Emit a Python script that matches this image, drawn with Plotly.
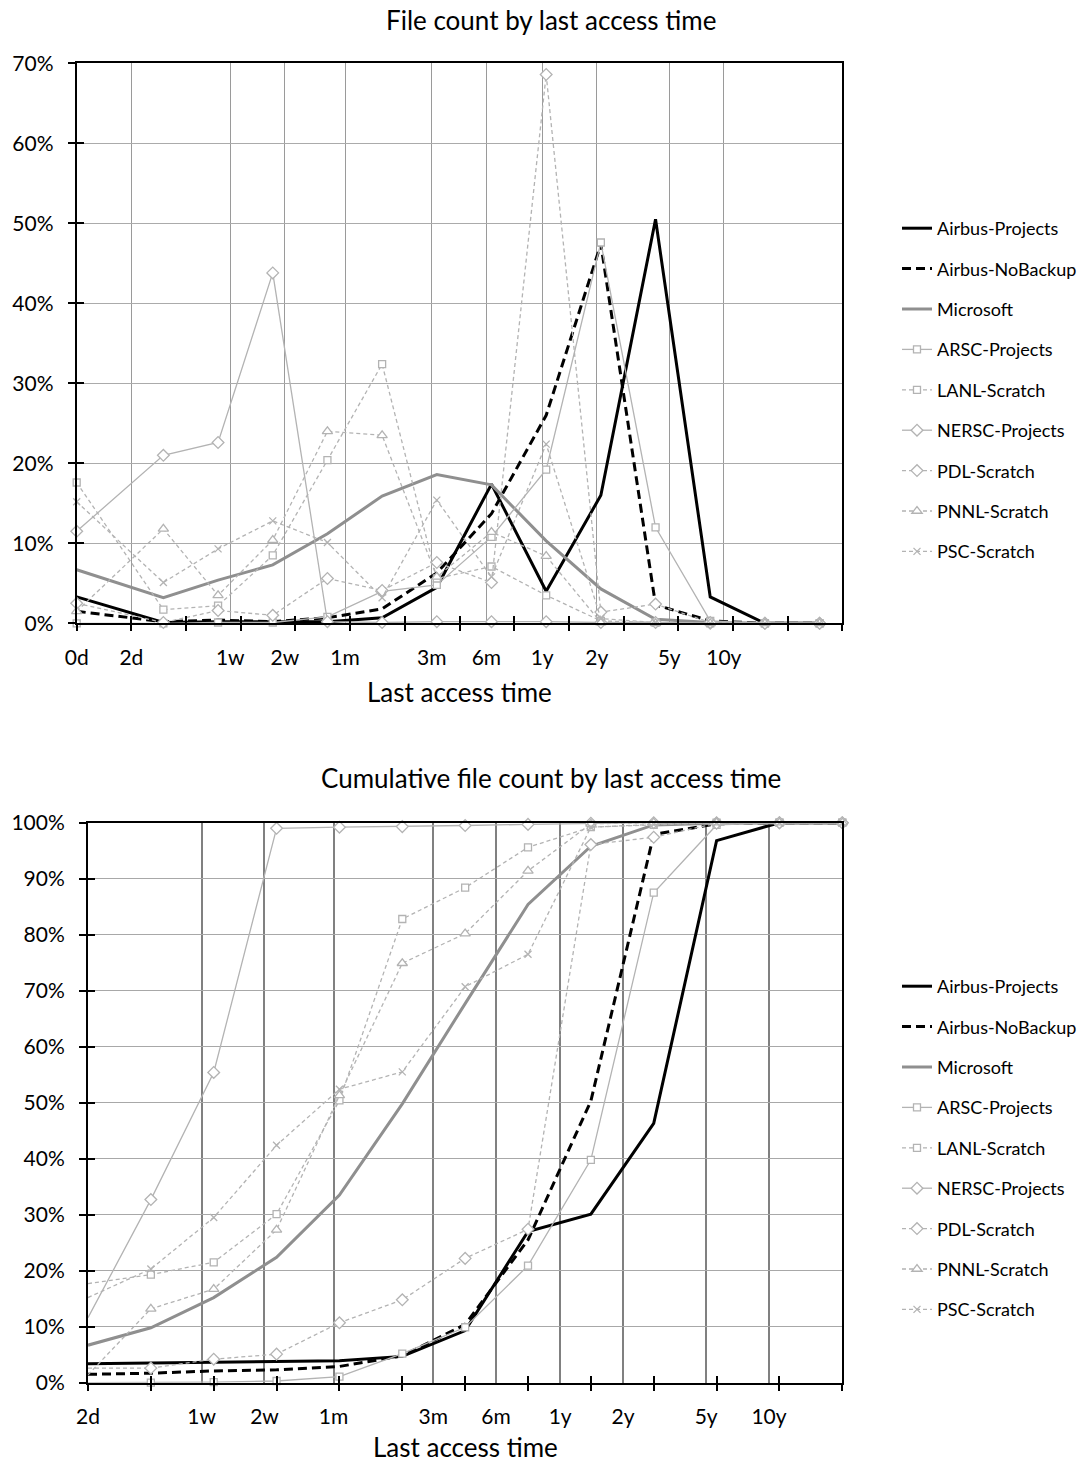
import math
import plotly.graph_objects as go

# ---------------- data ----------------
series_names = ["Airbus-Projects", "Airbus-NoBackup", "Microsoft", "ARSC-Projects",
                "LANL-Scratch", "NERSC-Projects", "PDL-Scratch", "PNNL-Scratch", "PSC-Scratch"]

# top chart: share of files per last-access bin (%)
days_top = [1, 3, 6, 12, 24, 48, 96, 192, 384, 768, 1536, 3072, 6144, 12288]
airbus_projects = [3.3, 0.1, 0.2, 0.2, 0.2, 0.7, 4.5, 17.4, 4.0, 16.0, 50.5, 3.3, 0.0, 0.0]
airbus_nobackup = [1.5, 0.2, 0.4, 0.2, 0.7, 1.8, 6.3, 13.7, 26.0, 47.4, 2.3, 0.3, 0.0, 0.0]
microsoft = [6.7, 3.2, 5.4, 7.3, 11.2, 15.9, 18.6, 17.3, 10.3, 4.3, 0.5, 0.1, 0.0, 0.0]
arsc_projects = [0.0, 0.0, 0.1, 0.1, 0.8, 4.0, 4.8, 10.8, 19.2, 47.6, 12.0, 0.3, 0.0, 0.0]
lanl_scratch = [17.6, 1.7, 2.2, 8.5, 20.4, 32.4, 5.6, 7.1, 3.5, 0.3, 0.1, 0.0, 0.0, 0.0]
nersc_projects = [11.5, 21.0, 22.6, 43.8, 0.2, 0.1, 0.2, 0.2, 0.2, 0.1, 0.1, 0.0, 0.0, 0.0]
pdl_scratch = [2.5, 0.1, 1.6, 1.0, 5.6, 4.1, 7.6, 5.1, 68.6, 1.4, 2.4, 0.1, 0.0, 0.0]
pnnl_scratch = [1.5, 11.8, 3.5, 10.4, 24.0, 23.5, 5.8, 11.4, 8.4, 0.1, 0.0, 0.0, 0.0, 0.0]
psc_scratch = [15.2, 5.1, 9.3, 12.8, 10.1, 3.2, 15.4, 5.8, 22.4, 0.6, 0.1, 0.0, 0.0, 0.0]

# bottom chart: cumulative share (%)
days_cum = [2, 4, 8, 16, 32, 64, 128, 256, 512, 1024, 2048, 4096, 8192]
airbus_projects_cum = [3.4, 3.5, 3.6, 3.8, 3.9, 4.7, 9.3, 27.0, 30.1, 46.3, 96.8, 100, 100]
airbus_nobackup_cum = [1.5, 1.7, 2.1, 2.3, 2.9, 4.8, 10.4, 25.5, 50.3, 97.9, 99.8, 100, 100]
microsoft_cum = [6.7, 9.8, 15.2, 22.4, 33.5, 49.8, 67.7, 85.4, 95.8, 99.6, 99.9, 100, 100]
arsc_projects_cum = [0.0, 0.0, 0.1, 0.3, 1.1, 5.2, 9.9, 20.9, 39.8, 87.5, 99.6, 100, 100]
lanl_scratch_cum = [17.7, 19.3, 21.5, 30.1, 50.4, 82.8, 88.4, 95.6, 99.2, 99.6, 100, 100, 100]
nersc_projects_cum = [11.6, 32.7, 55.4, 99.0, 99.2, 99.3, 99.5, 99.7, 99.9, 100, 100, 100, 100]
pdl_scratch_cum = [2.6, 2.6, 4.2, 5.1, 10.7, 14.8, 22.2, 27.4, 96.1, 97.4, 99.9, 100, 100]
pnnl_scratch_cum = [1.4, 13.2, 16.7, 27.3, 51.3, 74.9, 80.2, 91.4, 99.8, 100, 100, 100, 100]
psc_scratch_cum = [15.2, 20.3, 29.5, 42.4, 52.4, 55.5, 70.7, 76.5, 99.2, 99.7, 100, 100, 100]

# tick labels (vertical grid lines) in days
grid_days_top = [1, 2, 7, 14, 30, 90, 180, 365, 730, 1825, 3650]
grid_labels_top = ["0d", "2d", "1w", "2w", "1m", "3m", "6m", "1y", "2y", "5y", "10y"]
grid_days_cum = [2, 7, 14, 30, 90, 180, 365, 730, 1825, 3650]
grid_labels_cum = ["2d", "1w", "2w", "1m", "3m", "6m", "1y", "2y", "5y", "10y"]

top_values = [airbus_projects, airbus_nobackup, microsoft, arsc_projects, lanl_scratch,
              nersc_projects, pdl_scratch, pnnl_scratch, psc_scratch]
cum_values = [airbus_projects_cum, airbus_nobackup_cum, microsoft_cum, arsc_projects_cum,
              lanl_scratch_cum, nersc_projects_cum, pdl_scratch_cum, pnnl_scratch_cum,
              psc_scratch_cum]

# ---------------- styles ----------------
FONT = "Lato, Carlito, 'Liberation Sans', sans-serif"
LIGHT = "#b3b3b3"
styles = {
    "Airbus-Projects": dict(color="black", width=3, dash="solid", symbol=None),
    "Airbus-NoBackup": dict(color="black", width=3, dash="9px,5px", symbol=None),
    "Microsoft": dict(color="#8f8f8f", width=3, dash="solid", symbol=None),
    "ARSC-Projects": dict(color=LIGHT, width=1.3, dash="solid", symbol="square", size=7),
    "LANL-Scratch": dict(color=LIGHT, width=1.3, dash="4px,3px", symbol="square", size=7),
    "NERSC-Projects": dict(color=LIGHT, width=1.3, dash="solid", symbol="diamond", size=9),
    "PDL-Scratch": dict(color=LIGHT, width=1.3, dash="4px,3px", symbol="diamond", size=9),
    "PNNL-Scratch": dict(color=LIGHT, width=1.3, dash="4px,3px", symbol="triangle-up", size=9),
    "PSC-Scratch": dict(color=LIGHT, width=1.3, dash="4px,3px", symbol="x-thin", size=7),
}

fig = go.Figure()


def add_series(xv, yv, name, xa, ya, legend, group):
    st = styles[name]
    kw = dict(x=xv, y=yv, name=name, xaxis=xa, yaxis=ya, legend=legend,
              legendgroup=group, cliponaxis=False,
              line=dict(color=st["color"], width=st["width"], dash=st["dash"]))
    if st["symbol"] is None:
        kw["mode"] = "lines"
    else:
        kw["mode"] = "lines+markers"
        kw["marker"] = dict(symbol=st["symbol"], size=st["size"], color="white",
                            line=dict(color=st["color"], width=1.3))
    fig.add_trace(go.Scatter(**kw))


for i, name in enumerate(series_names):
    add_series(days_top, top_values[i], name, "x", "y", "legend", "t%d" % i)
for i, name in enumerate(series_names):
    add_series(days_cum, cum_values[i], name, "x2", "y2", "legend2", "c%d" % i)

# empty helper traces so that the tick-mark overlay axes are created
for xa, ya in [("x3", "y"), ("x5", "y"), ("x", "y3"), ("x4", "y2"), ("x6", "y2"), ("x2", "y4")]:
    fig.add_trace(go.Scatter(x=[], y=[], xaxis=xa, yaxis=ya, showlegend=False,
                             hoverinfo="skip", mode="lines"))

W, H = 1086, 1466
# plot areas in pixels
top_l, top_r, top_t, top_b = 76.7, 842.3, 63.3, 623.3
bot_l, bot_r, bot_t, bot_b = 88.0, 842.3, 822.7, 1382.7

dom = lambda a, b: [a / W, b / W]
vdom = lambda t, b: [1 - b / H, 1 - t / H]

LOG2 = math.log10(2)
tick_font = dict(family=FONT, size=21, color="black")


def main_x(domain, rng, tv, tt, gridcolor, gridwidth, anchor):
    return dict(type="log", domain=domain, range=rng, anchor=anchor, automargin=False,
                tickmode="array", tickvals=tv, ticktext=tt, ticks="",
                showgrid=True, gridcolor=gridcolor, gridwidth=gridwidth,
                showline=True, linecolor="black", linewidth=2, mirror=True,
                zeroline=False, tickfont=tick_font, ticklabelstandoff=14)


def tick_x(rng, overlay, anchor, direction):
    return dict(type="log", range=rng, overlaying=overlay, anchor=anchor, automargin=False,
                tickmode="linear", tick0=0, dtick=LOG2, ticks=direction,
                ticklen=7, tickwidth=2, tickcolor="black", showticklabels=False,
                showgrid=False, showline=False, zeroline=False)


def main_y(domain, rng, gridcolor, anchor):
    return dict(domain=domain, range=rng, anchor=anchor, dtick=10, tick0=0, automargin=False,
                ticksuffix="%", ticks="outside", ticklen=7, tickwidth=2,
                tickcolor="black", showgrid=True, gridcolor=gridcolor, gridwidth=1,
                showline=True, linecolor="black", linewidth=2, mirror=True,
                zeroline=False, tickfont=tick_font, ticklabelstandoff=10)


def tick_y(rng, overlay, anchor):
    return dict(range=rng, overlaying=overlay, anchor=anchor, dtick=10, tick0=0,
                automargin=False,
                ticks="inside", ticklen=7, tickwidth=2, tickcolor="black",
                showticklabels=False, showgrid=False, showline=False, zeroline=False)


rng_top = [0, math.log10(16384)]
rng_bot = [math.log10(2), math.log10(8192)]

title_font = dict(family=FONT, size=26, color="black")


def label(text, xpx, ypx):
    return dict(text=text, x=xpx / W, y=1 - ypx / H, xref="paper", yref="paper",
                xanchor="center", yanchor="middle", showarrow=False, font=title_font)


layout = dict(
    template="none",
    width=W, height=H, margin=dict(l=0, r=0, t=0, b=0, pad=0), autosize=False,
    paper_bgcolor="white", plot_bgcolor="white",
    font=dict(family=FONT, color="black"),
    xaxis=main_x(dom(top_l, top_r), rng_top, grid_days_top, grid_labels_top, "#9a9a9a", 1, "y"),
    yaxis=main_y(vdom(top_t, top_b), [0, 70], "#ababab", "x"),
    xaxis2=main_x(dom(bot_l, bot_r), rng_bot, grid_days_cum, grid_labels_cum, "#808080", 1.5, "y2"),
    yaxis2=main_y(vdom(bot_t, bot_b), [0, 100], "#a8a8a8", "x2"),
    xaxis3=tick_x(rng_top, "x", "y", "outside"),
    xaxis5=tick_x(rng_top, "x", "y", "inside"),
    yaxis3=tick_y([0, 70], "y", "x"),
    xaxis4=tick_x(rng_bot, "x2", "y2", "outside"),
    xaxis6=tick_x(rng_bot, "x2", "y2", "inside"),
    yaxis4=tick_y([0, 100], "y2", "x2"),
    legend=dict(x=897 / W, y=1 - 210 / H, xanchor="left", yanchor="top",
                font=dict(family=FONT, size=18, color="black"),
                bgcolor="rgba(0,0,0,0)", tracegroupgap=14, itemwidth=30),
    legend2=dict(x=897 / W, y=1 - 968 / H, xanchor="left", yanchor="top",
                 font=dict(family=FONT, size=18, color="black"),
                 bgcolor="rgba(0,0,0,0)", tracegroupgap=14, itemwidth=30),
    showlegend=True,
    annotations=[
        label("File count by last access time", 551, 20),
        label("Last access time", 459, 692),
        label("Cumulative file count by last access time", 551, 778),
        label("Last access time", 465, 1447),
    ],
)
fig.update_layout(**layout)
fig.write_html("out.html")
